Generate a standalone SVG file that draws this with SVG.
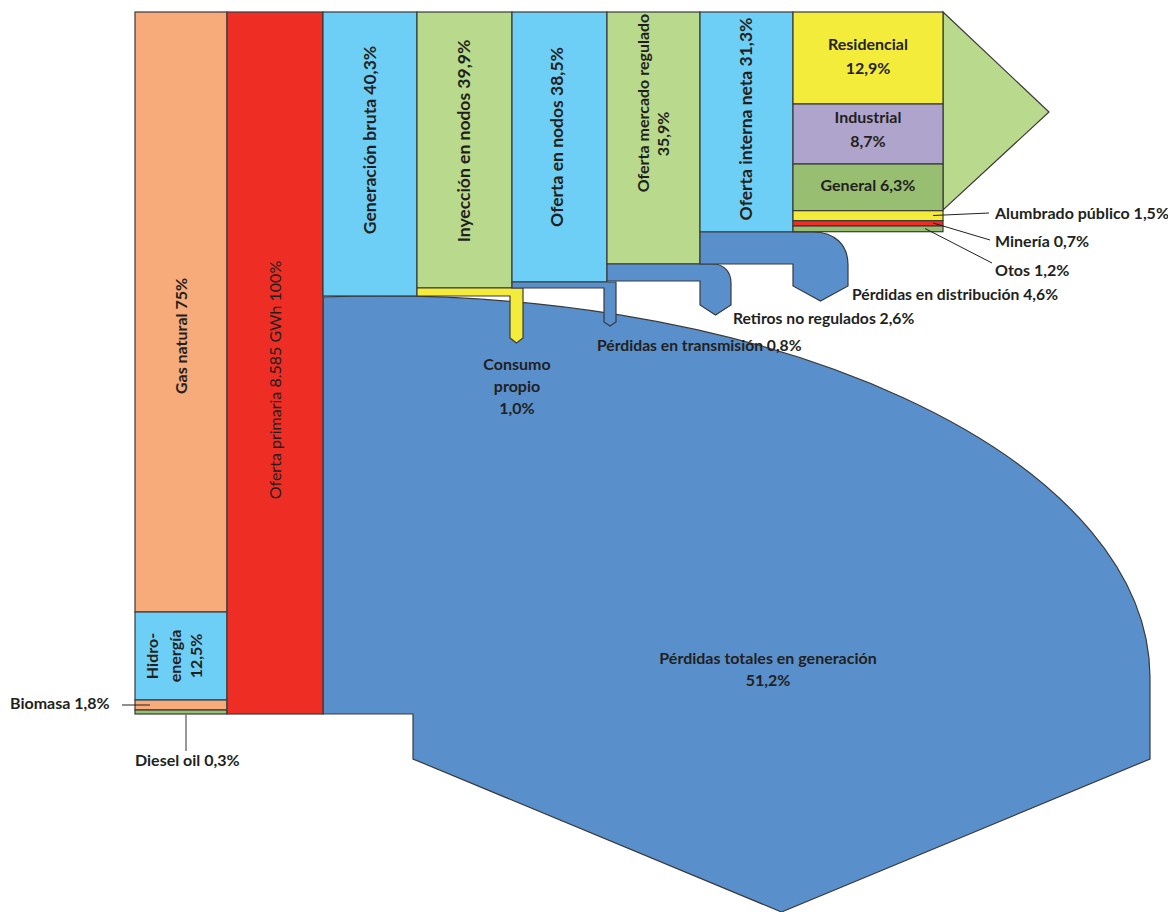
<svg xmlns="http://www.w3.org/2000/svg" width="1168" height="912" viewBox="0 0 1168 912">
<style>
.s{stroke:#3a3a3a;stroke-width:1.2;stroke-linejoin:miter}
.peach{fill:#F7AA7A}
.red{fill:#EE2D24}
.cyan{fill:#6DCFF6}
.lgreen{fill:#B9DA8C}
.blue{fill:#5990CB}
.yellow{fill:#F3EC3A}
.purple{fill:#AFA4CC}
.green{fill:#98BE72}
text{font-family:Lato,"Liberation Sans",sans-serif;font-weight:700;font-size:16px;fill:#231F20}
.m{text-anchor:middle}
.big{font-size:17.5px}
.ld{stroke:#231F20;stroke-width:1;fill:none}
.lg{stroke:#777;stroke-width:1.5;fill:none}
</style>
<rect width="1168" height="912" fill="#fff"/>

<g id="perdidas-generacion">
<path class="s blue" d="M323,297 A770,382 0 0,1 1150,677 L1150,759 L781.5,912 L413,759 L413,714 L323,714 Z"/>
<text class="m" x="768" y="664">Pérdidas totales en generación</text>
<text class="m" x="768" y="686">51,2%</text>
</g>

<g id="gas-natural">
<rect class="s peach" x="135" y="12" width="92" height="600"/>
<text class="m" transform="translate(181,336) rotate(-90)" dy="0.35em">Gas natural 75%</text>
</g>
<g id="hidroenergia">
<rect class="s cyan" x="135" y="612" width="92" height="88"/>
<text class="m" transform="translate(152,656) rotate(-90)" dy="0.35em">Hidro-</text>
<text class="m" transform="translate(175,656) rotate(-90)" dy="0.35em">energía</text>
<text class="m" transform="translate(196,656) rotate(-90)" dy="0.35em">12,5%</text>
</g>
<g id="biomasa">
<rect class="s peach" x="135" y="700" width="92" height="10"/>
<text x="10" y="709">Biomasa 1,8%</text>
</g>
<g id="diesel">
<rect class="s green" x="135" y="710" width="92" height="4"/>
<text x="135" y="766">Diesel oil 0,3%</text>
</g>

<g id="oferta-primaria">
<rect class="s red" x="227" y="12" width="96" height="702"/>
<text class="m" transform="translate(275,380) rotate(-90)" dy="0.35em" style="font-weight:400">Oferta primaria 8.585 GWh 100%</text>
</g>

<g id="generacion-bruta">
<rect class="s cyan" x="323" y="12" width="94" height="284"/>
<text class="m big" transform="translate(370,140) rotate(-90)" dy="0.35em">Generación bruta 40,3%</text>
</g>
<g id="inyeccion">
<rect class="s lgreen" x="417" y="12" width="95" height="276"/>
<text class="m big" transform="translate(464,141) rotate(-90)" dy="0.35em">Inyección en nodos 39,9%</text>
</g>
<g id="oferta-nodos">
<rect class="s cyan" x="512" y="12" width="95" height="270"/>
<text class="m big" transform="translate(557,137) rotate(-90)" dy="0.35em">Oferta en nodos 38,5%</text>
</g>
<g id="oferta-mercado">
<rect class="s lgreen" x="607" y="12" width="93" height="252"/>
<text class="m" transform="translate(643,103) rotate(-90)" dy="0.35em">Oferta mercado regulado</text>
<text class="m" transform="translate(663,134) rotate(-90)" dy="0.35em">35,9%</text>
</g>
<g id="oferta-interna">
<rect class="s cyan" x="700" y="12" width="93" height="220"/>
<text class="m big" transform="translate(746,119) rotate(-90)" dy="0.35em">Oferta interna neta 31,3%</text>
</g>

<g id="consumo-propio">
<path class="s yellow" d="M417,288 L523,288 L523,338 L516.5,343 L510,338 L510,296 L417,296 Z"/>
<text class="m" x="517" y="370">Consumo</text>
<text class="m" x="517" y="392">propio</text>
<text class="m" x="517" y="414">1,0%</text>
</g>
<g id="perdidas-transmision">
<path class="s blue" d="M512,282 L616,282 L616,322 L610,326 L604,322 L604,288 L512,288 Z"/>
<text x="597" y="351" style="font-size:15.7px">Pérdidas en transmisión 0,8%</text>
</g>
<g id="retiros">
<path class="s blue" d="M607,264 L713,264 C724,264 731,272 731,283 L731,305 L715.5,315 L700,305 L700,281 L607,281 Z"/>
<text x="733" y="324" style="font-size:15.7px">Retiros no regulados 2,6%</text>
</g>
<g id="perdidas-distribucion">
<path class="s blue" d="M700,232 L813,232 C835,232 848,245 848,265 L848,286 L820.5,301 L793,286 L793,264 L700,264 Z"/>
<text x="852" y="300" style="font-size:15.7px">Pérdidas en distribución 4,6%</text>
</g>

<g id="arrow-consumo">
<path class="s lgreen" d="M943,12 L1049,112 L943,210 Z"/>
</g>
<g id="residencial">
<rect class="s yellow" x="793" y="12" width="150" height="92"/>
<text class="m" x="868" y="50">Residencial</text>
<text class="m" x="868" y="74">12,9%</text>
</g>
<g id="industrial">
<rect class="s purple" x="793" y="104" width="150" height="60"/>
<text class="m" x="868" y="123">Industrial</text>
<text class="m" x="868" y="147">8,7%</text>
</g>
<g id="general">
<rect class="s green" x="793" y="164" width="150" height="46.7"/>
<text class="m" x="868" y="191">General 6,3%</text>
</g>
<g id="alumbrado">
<rect class="s yellow" x="793" y="210.7" width="150" height="10"/>
<text x="995" y="219">Alumbrado público 1,5%</text>
</g>
<g id="mineria">
<rect class="s red" x="793" y="220.7" width="150" height="5.3"/>
<text x="995" y="247">Minería 0,7%</text>
</g>
<g id="otros">
<rect class="s green" x="793" y="226" width="150" height="5.7"/>
<text x="995" y="276">Otos 1,2%</text>
</g>

<g id="connectors">
<line class="ld" x1="933" y1="215.5" x2="989" y2="213"/>
<line class="ld" x1="933" y1="223" x2="990" y2="240"/>
<line class="ld" x1="925" y1="228.5" x2="992" y2="263"/>
<line class="ld" x1="122" y1="705" x2="150" y2="705"/>
<line class="lg" x1="186" y1="714" x2="186" y2="751"/>
</g>
</svg>
